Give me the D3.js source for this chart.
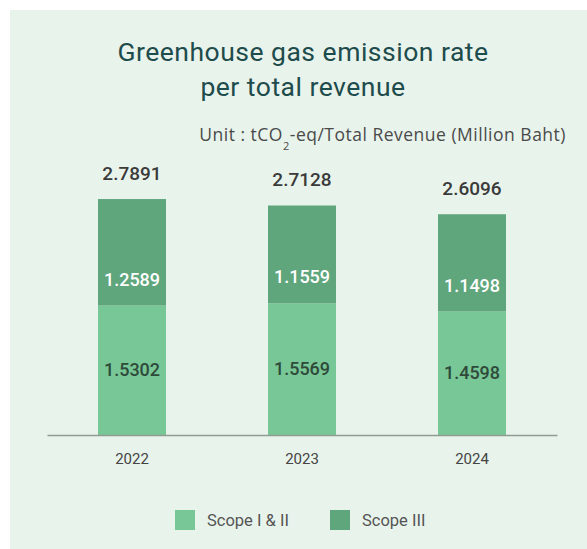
<!DOCTYPE html>
<html>
<head>
<meta charset="utf-8">
<script src="https://cdn.jsdelivr.net/npm/d3@7"></script>
<style>
  html, body { margin: 0; padding: 0; background: #ffffff; }
  svg { display: block; }
</style>
</head>
<body>
<svg id="chart" width="587" height="549"></svg>
<script>
// Emission intensity per total revenue, by year and scope
const years = ["2022", "2023", "2024"];
const scope12 = [1.5302, 1.5569, 1.4598];
const scope3 = [1.2589, 1.1559, 1.1498];
const totals = [2.7891, 2.7128, 2.6096];
const seriesNames = ["Scope I & II", "Scope III"];

const colors = { s12: "#78c796", s3: "#60a67d" };
const numFont = "Roboto, 'DejaVu Sans', sans-serif";

const svg = d3.select("#chart");
const W = 587, H = 549;

// panel background
svg.append("rect").attr("x", 10).attr("y", 10).attr("width", W - 10).attr("height", H - 10)
  .attr("fill", "#e8f3eb");

// title
const title = svg.append("text").attr("text-anchor", "middle")
  .attr("font-family", "Roboto, sans-serif").attr("font-size", 26.5)
  .attr("letter-spacing", 0.5).attr("fill", "#1e4b4c");
title.append("tspan").attr("x", 303).attr("y", 61).text("Greenhouse gas emission rate");
title.append("tspan").attr("x", 303).attr("y", 96).text("per total revenue");

// unit line with subscript
const unit = svg.append("text").attr("x", 566).attr("y", 141).attr("text-anchor", "end")
  .attr("font-family", "'Open Sans', sans-serif").attr("font-size", 17.5)
  .attr("letter-spacing", 0.5).attr("fill", "#4a4a4a");
unit.append("tspan").text("Unit : tCO");
unit.append("tspan").attr("font-size", 11).attr("dy", 9).text("2");
unit.append("tspan").attr("dy", -9).text("-eq/Total Revenue (Million Baht)");

// scales
const x = d3.scaleBand().domain(years).range([47, 557]).paddingInner(0.6).paddingOuter(0.3);
const y = d3.scaleLinear().domain([0, 3]).range([435, 181.2]);

const rows = years.map((yr, i) => ({ yr, s12: scope12[i], s3: scope3[i], total: totals[i] }));
const stack = d3.stack().keys(["s12", "s3"])(rows);

svg.append("g").selectAll("g").data(stack).join("g")
  .attr("fill", d => colors[d.key])
  .selectAll("rect").data(d => d).join("rect")
  .attr("x", d => x(d.data.yr))
  .attr("width", x.bandwidth())
  .attr("y", d => y(d[1]))
  .attr("height", d => y(d[0]) - y(d[1]));

// axis
const xAxis = svg.append("g").attr("transform", `translate(0,${y(0)})`)
  .call(d3.axisBottom(x).tickSize(0).tickPadding(18));
xAxis.select(".domain").attr("stroke", "#8f9c94").attr("stroke-width", 1.5);
xAxis.selectAll("text").attr("font-family", numFont).attr("font-size", 15)
  .attr("fill", "#444").attr("dy", "0.71em");

// total labels
svg.append("g").selectAll("text").data(rows).join("text")
  .attr("x", d => x(d.yr) + x.bandwidth() / 2)
  .attr("y", d => y(d.total) - 19)
  .attr("text-anchor", "middle").attr("font-family", numFont)
  .attr("font-size", 19).attr("font-weight", 500).attr("fill", "#3a3a3a")
  .text(d => d.total.toFixed(4));

// segment labels
svg.append("g").selectAll("text").data(rows).join("text")
  .attr("x", d => x(d.yr) + x.bandwidth() / 2)
  .attr("y", d => (y(0) + y(d.s12)) / 2 + 6)
  .attr("text-anchor", "middle").attr("font-family", numFont)
  .attr("font-size", 18).attr("font-weight", 500).attr("fill", "#2f4a3a")
  .text(d => d.s12.toFixed(4));

svg.append("g").selectAll("text").data(rows).join("text")
  .attr("x", d => x(d.yr) + x.bandwidth() / 2)
  .attr("y", d => y(d.s12) - 20)
  .attr("text-anchor", "middle").attr("font-family", numFont)
  .attr("font-size", 18).attr("font-weight", 500).attr("fill", "#ffffff")
  .text(d => d.s3.toFixed(4));

// legend
const legend = svg.append("g");
const legendX = [175, 330];
const legendColors = [colors.s12, colors.s3];
seriesNames.forEach((name, i) => {
  legend.append("rect").attr("x", legendX[i]).attr("y", 510).attr("width", 20).attr("height", 20)
    .attr("fill", legendColors[i]);
  legend.append("text").attr("x", legendX[i] + 32).attr("y", 526)
    .attr("font-family", numFont).attr("font-size", 16.5).attr("fill", "#555")
    .text(name);
});
</script>
</body>
</html>
